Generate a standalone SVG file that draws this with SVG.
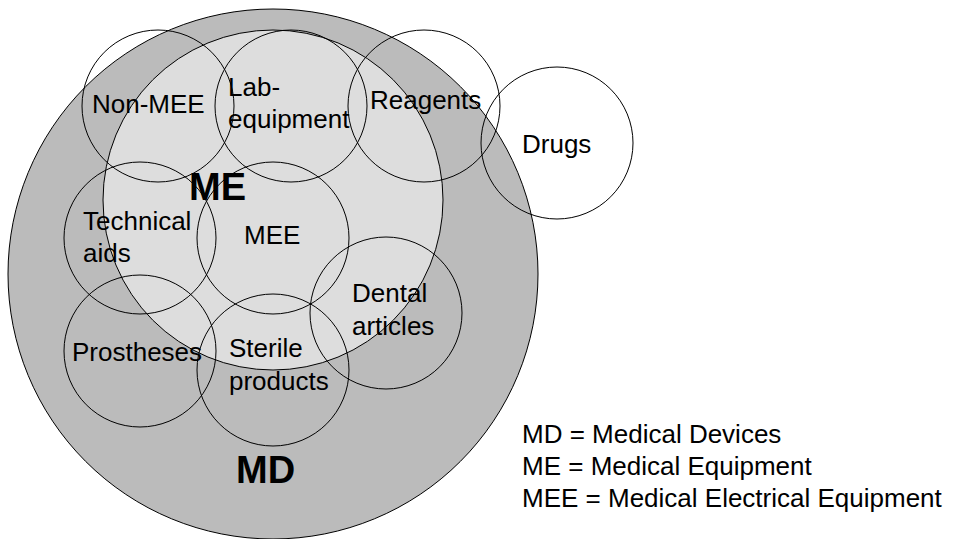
<svg xmlns="http://www.w3.org/2000/svg" width="960" height="539" viewBox="0 0 960 539">
<style>
.t{font-family:"Liberation Sans",Arial,sans-serif;font-size:26px;fill:#000}
.b{font-family:"Liberation Sans",Arial,sans-serif;font-size:38px;font-weight:bold;fill:#000}
.c{fill:none;stroke:#000;stroke-width:1}
</style>
<rect width="960" height="539" fill="#fff"/>
<g id="MD"><circle cx="273" cy="274" r="265" fill="#bbbbbb" stroke="#000" stroke-width="1"/></g>
<g id="ME"><circle cx="273" cy="200" r="170" fill="#dddddd" stroke="#000" stroke-width="1"/></g>
<g id="non-mee"><circle class="c" cx="158" cy="106" r="76"/><text class="t" x="92" y="113">Non-MEE</text></g>
<g id="lab-equipment"><circle class="c" cx="291" cy="106" r="76"/><text class="t" x="228" y="96">Lab-</text><text class="t" x="228" y="128">equipment</text></g>
<g id="reagents"><circle class="c" cx="424" cy="106" r="76"/><text class="t" x="370" y="109">Reagents</text></g>
<g id="drugs"><circle class="c" cx="557" cy="143" r="76"/><text class="t" x="522" y="153">Drugs</text></g>
<g id="technical-aids"><circle class="c" cx="140" cy="238" r="76"/><text class="t" x="83" y="230">Technical</text><text class="t" x="83" y="262">aids</text></g>
<g id="mee"><circle class="c" cx="273" cy="238" r="76"/><text class="t" x="244" y="244">MEE</text></g>
<g id="dental-articles"><circle class="c" cx="386" cy="313" r="76"/><text class="t" x="352" y="302">Dental</text><text class="t" x="352" y="335">articles</text></g>
<g id="prostheses"><circle class="c" cx="140" cy="351" r="76"/><text class="t" x="72" y="361">Prostheses</text></g>
<g id="sterile-products"><circle class="c" cx="273" cy="370" r="76"/><text class="t" x="229" y="357">Sterile</text><text class="t" x="229" y="390">products</text></g>
<g id="labels"><text class="b" x="189" y="200">ME</text><text class="b" x="236" y="483">MD</text></g>
<g id="legend">
<text class="t" x="522" y="443">MD = Medical Devices</text>
<text class="t" x="522" y="475">ME = Medical Equipment</text>
<text class="t" x="522" y="507">MEE = Medical Electrical Equipment</text>
</g>
<g id="connectors"></g>
</svg>
